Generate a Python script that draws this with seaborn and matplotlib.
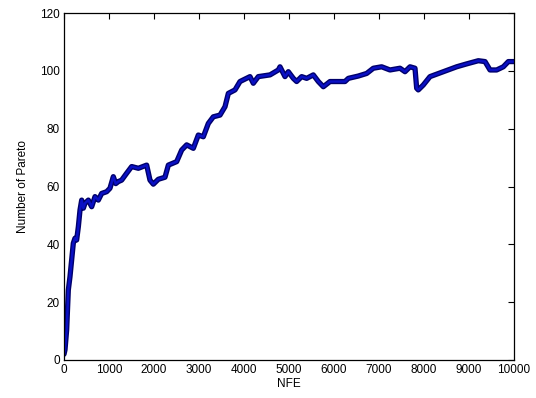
import matplotlib
matplotlib.use("Agg")
import matplotlib.pyplot as plt
import seaborn as sns
import pandas as pd

nfe = [0, 22, 59, 96, 133, 170, 207, 244, 281, 319, 356, 393, 430, 467, 541, 615, 689,
       763, 837, 948, 1022, 1096, 1150, 1207, 1281, 1393, 1504, 1652, 1837, 1911, 1985,
       2096, 2244, 2319, 2504, 2615, 2726, 2874, 2985, 3096, 3207, 3318, 3467, 3578,
       3652, 3800, 3911, 4133, 4207, 4318, 4578, 4763, 4800, 4911, 4985, 5096, 5170,
       5281, 5393, 5540, 5652, 5763, 5911, 6244, 6319, 6540, 6726, 6874, 7059, 7244,
       7467, 7578, 7689, 7800, 7837, 7873, 7984, 8133, 8430, 8726, 8948, 9207, 9356,
       9467, 9615, 9763, 9874, 10000]
pareto = [2, 3.5, 10.4, 24.2, 28.8, 34.6, 40.4, 42.1, 41.5, 46.1, 51.9, 55.3, 52.5,
          54.2, 55.3, 53.0, 56.5, 55.3, 57.6, 58.2, 59.4, 63.4, 61.0, 61.7, 62.2, 64.6,
          66.9, 66.3, 67.4, 62.2, 60.8, 62.5, 63.2, 67.4, 68.6, 72.6, 74.4, 73.2, 77.8,
          77.2, 81.8, 84.1, 84.7, 87.6, 92.2, 93.4, 96.3, 98.0, 95.7, 98.0, 98.6, 100.3,
          101.4, 98.0, 99.7, 97.4, 96.3, 98.0, 97.4, 98.6, 96.3, 94.5, 96.3, 96.3, 97.4,
          98.2, 99.1, 100.9, 101.4, 100.3, 100.9, 99.7, 101.4, 100.9, 94.0, 93.4, 95.1,
          98.0, 99.7, 101.4, 102.4, 103.5, 103.2, 100.3, 100.3, 101.4, 103.2, 103.2]

df = pd.DataFrame({"NFE": nfe, "Pareto": pareto})

sns.set_style("white")
plt.rcParams['font.family'] = ['Liberation Sans', 'DejaVu Sans']
plt.rcParams['text.color'] = 'black'
plt.rcParams['axes.labelcolor'] = 'black'

fig = plt.figure(figsize=(5.36, 3.98), dpi=100)
ax = fig.add_axes([64/536, 38/398, 450/536, 347/398])

sns.lineplot(data=df, x="NFE", y="Pareto", ax=ax, color="#00006a", lw=3.8,
             sort=False, estimator=None)
sns.lineplot(data=df, x="NFE", y="Pareto", ax=ax, color="#0a10c4", lw=1.8,
             sort=False, estimator=None)

ax.set_xlim(0, 10000)
ax.set_ylim(0, 120)
ax.set_xticks(range(0, 10001, 1000))
ax.set_yticks(range(0, 121, 20))
ax.tick_params(direction="in", length=4, width=0.8, top=True, right=True,
               labelsize=8.5, colors="black", labelcolor="black", pad=3)
for s in ax.spines.values():
    s.set_visible(True)
    s.set_color("black")
    s.set_linewidth(0.9)
ax.set_xlabel("NFE", fontsize=8.5, labelpad=1, color="black")
ax.set_ylabel("Number of Pareto", fontsize=8.5, labelpad=8, color="black")

fig.savefig("out.png", dpi=100)
